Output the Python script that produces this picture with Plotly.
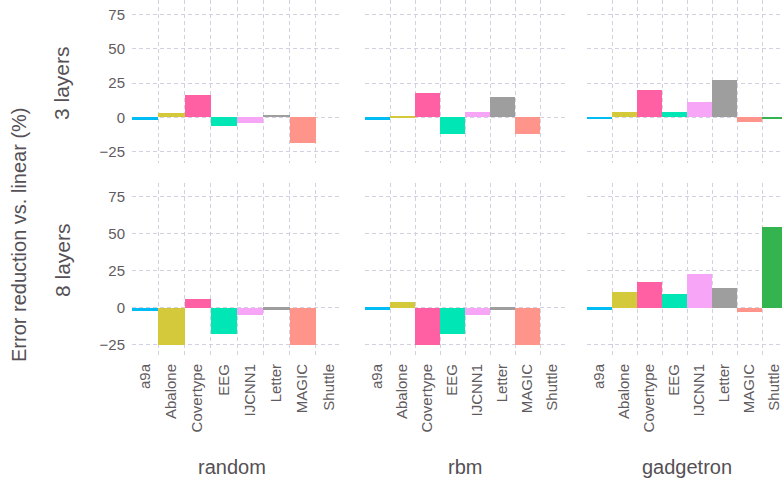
import plotly.graph_objects as go

W, H = 782, 480

categories = ["a9a", "Abalone", "Covertype", "EEG", "IJCNN1", "Letter", "MAGIC", "Shuttle"]
colors = ["#00BCF5", "#D4C93A", "#FF5FA3", "#00E6B4", "#F7A6F7", "#9E9E9E", "#FF948A", "#34B44E"]
methods = ["random", "rbm", "gadgetron"]
layers = ["3 layers", "8 layers"]

# 3 layers
random_3 = [-2.0, 3.2, 16.3, -6.3, -3.9, 1.7, -18.8, None]
rbm_3 = [-2.2, 0.7, 17.6, -12.4, 3.7, 14.6, -12.4, None]
gadgetron_3 = [-0.7, 3.7, 19.8, 3.7, 11.0, 27.0, -3.7, -0.7]
# 8 layers
random_8 = [-2.0, -25.0, 6.1, -17.6, -4.7, -1.3, -25.0, None]
rbm_8 = [-1.3, 4.1, -25.0, -17.6, -4.7, -1.3, -25.0, None]
gadgetron_8 = [-1.3, 10.8, 17.6, 9.5, 23.0, 13.5, -2.7, 54.5]

data = [[random_3, rbm_3, gadgetron_3], [random_8, rbm_8, gadgetron_8]]

yticks = [-25, 0, 25, 50, 75]

# layout geometry (pixels)
col_px = [(132, 342), (365, 565), (587, 782)]
col_xmax = [8, 8, 7.8]
row_px = [(0, 163), (183, 357)]
row_range = [[-33.4, 85.7], [-33.3, 84.3]]

grid = "#D3D0E1"
tick_col = "#5f5b60"
title_col = "#555055"
FONT = "Liberation Sans, Arial, sans-serif"

xpos = [i + 0.5 for i in range(len(categories))]

fig = go.Figure()
layout = {}
for r in range(2):
    for c in range(3):
        k = r * 3 + c + 1
        xa = "x" if k == 1 else f"x{k}"
        ya = "y" if k == 1 else f"y{k}"
        fig.add_trace(go.Bar(
            x=xpos, y=data[r][c], width=1.0,
            marker=dict(color=colors, line=dict(width=0)),
            xaxis=xa, yaxis=ya, showlegend=False,
        ))
        x0, x1 = col_px[c]
        y0, y1 = row_px[r]
        layout["xaxis" if k == 1 else f"xaxis{k}"] = dict(
            domain=[x0 / W, x1 / W], anchor=ya, range=[0, col_xmax[c]],
            tickmode="array", tickvals=xpos, ticktext=categories,
            showticklabels=(r == 1), tickangle=-90,
            tickfont=dict(size=15, color=tick_col, family=FONT),
            showgrid=False, zeroline=False, showline=False, ticks="",
            ticklabelstandoff=3, ticklabeloverflow="allow",
            minor=dict(tickmode="array", tickvals=[1, 2, 3, 4, 5, 6, 7],
                       showgrid=True, gridcolor=grid, griddash="4px,3px", gridwidth=1),
            automargin=False, fixedrange=True,
        )
        layout["yaxis" if k == 1 else f"yaxis{k}"] = dict(
            domain=[1 - y1 / H, 1 - y0 / H], anchor=xa, range=row_range[r],
            tickmode="array", tickvals=yticks,
            showticklabels=(c == 0),
            tickfont=dict(size=15, color=tick_col, family=FONT),
            showgrid=True, gridcolor=grid, griddash="4px,3px", gridwidth=1,
            zeroline=False, showline=False, ticks="", ticklabelstandoff=6,
            automargin=False, fixedrange=True,
        )

annotations = []
for c, name in enumerate(methods):
    cx = (col_px[c][0] + (col_px[c][0] + 200)) / 2
    annotations.append(dict(text=name, x=cx / W, y=0, xref="paper", yref="paper",
                            showarrow=False, xanchor="center", yanchor="bottom",
                            font=dict(size=20, color=title_col, family=FONT)))
for r, (name, cy) in enumerate(zip(layers, [83, 260])):
    annotations.append(dict(text=name, x=62 / W, y=1 - cy / H, xref="paper", yref="paper",
                            showarrow=False, xanchor="center", yanchor="middle", textangle=-90,
                            font=dict(size=21, color=title_col, family=FONT)))
annotations.append(dict(text="Error reduction vs. linear (%)", x=19 / W, y=1 - 235 / H,
                        xref="paper", yref="paper", showarrow=False, xanchor="center",
                        yanchor="middle", textangle=-90,
                        font=dict(size=20, color=title_col, family=FONT)))

fig.update_layout(
    width=W, height=H, margin=dict(l=0, r=0, t=0, b=0, autoexpand=False),
    paper_bgcolor="white", plot_bgcolor="white",
    bargap=0, annotations=annotations, font=dict(family=FONT),
    **layout,
)

fig.write_html("out.html", config={"displayModeBar": False},
               post_script="document.body.style.margin='0';document.body.style.overflow='hidden';")
